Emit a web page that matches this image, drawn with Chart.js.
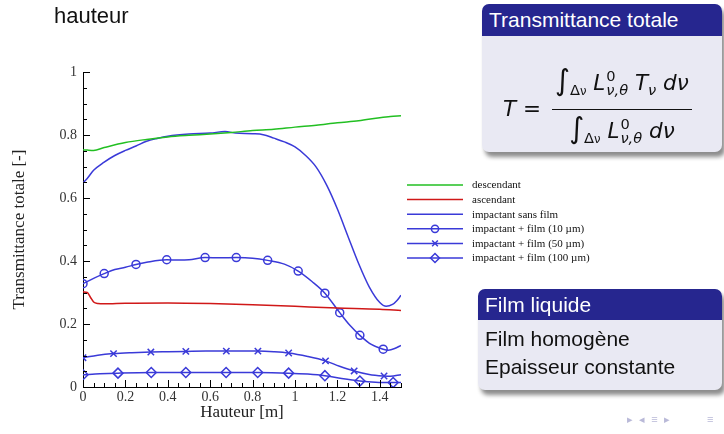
<!DOCTYPE html>
<html><head><meta charset="utf-8">
<script src="https://cdn.jsdelivr.net/npm/chart.js@4/dist/chart.umd.min.js"></script>
<style>
html,body{margin:0;padding:0;background:#fff;width:724px;height:434px;overflow:hidden;font-family:"Liberation Sans",Arial,sans-serif;}
#c{position:absolute;left:0;top:0;}
.slidetitle{position:absolute;left:54px;top:3px;font-size:22px;color:#111;}
.box{position:absolute;background:#e9e9f3;border-radius:7px;box-shadow:3px 5px 4px rgba(0,0,0,0.45);overflow:hidden;}
.hd{background:#26268f;color:#fff;font-size:21px;padding-left:7px;box-sizing:border-box;}
.bd{color:#111;font-size:21px;padding-left:7px;line-height:28px;}
#formula{position:absolute;left:503px;top:62px;font-size:21.5px;color:#111;white-space:nowrap;font-family:"DejaVu Sans","Liberation Sans",sans-serif;}
#formula .mi{font-style:italic;}
.frac{display:inline-block;vertical-align:middle;text-align:center;margin-left:4px;}
.num,.den{display:block;padding:0 3px;line-height:36px;}
.num{border-bottom:1.4px solid #111;}
.int{font-size:1.35em;font-style:italic;font-weight:300;}
.ss{display:inline-block;vertical-align:-0.35em;line-height:0.95;font-size:0.68em;text-align:left;margin-left:1px;}
.ss span{display:block;}
.sub{font-size:0.68em;vertical-align:-0.35em;}
.nav{position:absolute;top:413px;font-size:11px;color:#b9b9d8;}
</style></head>
<body>
<canvas id="c" width="724" height="434"></canvas>
<div class="slidetitle">hauteur</div>

<div class="box" style="left:482px;top:4px;width:240px;height:148px;">
  <div class="hd" style="height:32px;line-height:32px;">Transmittance totale</div>
</div>
<div id="formula">
  <span class="mi">T</span> <span>=</span>
  <span class="frac">
    <span class="num"><span class="int">∫</span><span class="sub">Δ<span style="font-size:0.8em">ν</span></span> <span class="mi">L</span><span class="ss"><span>0</span><span class="mi">ν,θ</span></span> <span class="mi">T</span><span class="sub mi">ν</span> <span class="mi">d</span><span class="mi">ν</span></span>
    <span class="den"><span class="int">∫</span><span class="sub">Δ<span style="font-size:0.8em">ν</span></span> <span class="mi">L</span><span class="ss"><span>0</span><span class="mi">ν,θ</span></span> <span class="mi">d</span><span class="mi">ν</span></span>
  </span>
</div>

<div class="box" style="left:478px;top:289px;width:244px;height:101px;">
  <div class="hd" style="height:31px;line-height:31px;">Film liquide</div>
  <div class="bd" style="padding-top:5px;">Film homogène<br>Epaisseur constante</div>
</div>
<div class="nav" style="left:627px;">▸ &nbsp;◂ &nbsp;≡ &nbsp;▸</div>
<div class="nav" style="left:707px;">≡</div>

<script>
// ---- data ----
const xTickValues = [0, 0.2, 0.4, 0.6, 0.8, 1, 1.2, 1.4];
const xTickLabels = ['0', '0.2', '0.4', '0.6', '0.8', '1', '1.2', '1.4'];
const yTickValues = [0, 0.2, 0.4, 0.6, 0.8, 1];
const yTickLabels = ['0', '0.2', '0.4', '0.6', '0.8', '1'];

const seriesNames = ['descendant', 'ascendant', 'impactant sans film',
  'impactant + film (10 µm)', 'impactant + film (50 µm)', 'impactant + film (100 µm)'];

const descX = [0, 0.02, 0.05, 0.1, 0.2, 0.3, 0.4, 0.5, 0.6, 0.7, 0.8, 0.9, 1.0, 1.1, 1.2, 1.3, 1.4, 1.45, 1.5];
const descY = [0.753, 0.752, 0.751, 0.760, 0.776, 0.786, 0.794, 0.799, 0.803, 0.808, 0.814, 0.818, 0.825, 0.831, 0.839, 0.845, 0.855, 0.859, 0.861];

const ascX = [0, 0.02, 0.035, 0.05, 0.07, 0.1, 0.2, 0.4, 0.6, 0.8, 1.0, 1.2, 1.4, 1.5];
const ascY = [0.302, 0.300, 0.285, 0.270, 0.265, 0.264, 0.266, 0.267, 0.265, 0.261, 0.256, 0.251, 0.247, 0.243];

const sansX = [0, 0.02, 0.05, 0.1, 0.15, 0.2, 0.25, 0.3, 0.35, 0.4, 0.5, 0.6, 0.67, 0.72, 0.8, 0.85, 0.9, 0.95, 1.0, 1.05, 1.1, 1.15, 1.2, 1.25, 1.3, 1.35, 1.4, 1.43, 1.46, 1.48, 1.5];
const sansY = [0.648, 0.662, 0.688, 0.714, 0.735, 0.751, 0.765, 0.780, 0.789, 0.796, 0.803, 0.806, 0.811, 0.806, 0.804, 0.801, 0.790, 0.778, 0.762, 0.735, 0.698, 0.640, 0.565, 0.478, 0.392, 0.318, 0.268, 0.256, 0.262, 0.274, 0.291];

const f10X = [0, 0.05, 0.1, 0.15, 0.2, 0.25, 0.3, 0.395, 0.45, 0.5, 0.576, 0.65, 0.723, 0.8, 0.871, 0.95, 1.015, 1.08, 1.141, 1.211, 1.26, 1.306, 1.36, 1.416, 1.44, 1.47, 1.5];
const f10Y = [0.328, 0.345, 0.360, 0.373, 0.380, 0.389, 0.396, 0.404, 0.403, 0.404, 0.411, 0.410, 0.411, 0.409, 0.402, 0.390, 0.368, 0.335, 0.298, 0.236, 0.195, 0.164, 0.135, 0.120, 0.117, 0.122, 0.132];
const f10Markers = [0, 0.1, 0.25, 0.395, 0.576, 0.723, 0.871, 1.015, 1.141, 1.211, 1.306, 1.416];

const f50X = [0, 0.07, 0.144, 0.23, 0.32, 0.4, 0.485, 0.58, 0.676, 0.75, 0.825, 0.9, 0.97, 1.06, 1.144, 1.21, 1.279, 1.35, 1.42, 1.45, 1.5];
const f50Y = [0.093, 0.101, 0.106, 0.109, 0.111, 0.112, 0.113, 0.114, 0.114, 0.114, 0.114, 0.112, 0.108, 0.097, 0.083, 0.066, 0.051, 0.040, 0.035, 0.034, 0.039];
const f50Markers = [0, 0.144, 0.32, 0.485, 0.676, 0.825, 0.97, 1.144, 1.279, 1.42];

const f100X = [0, 0.08, 0.165, 0.322, 0.485, 0.675, 0.824, 0.97, 1.06, 1.141, 1.22, 1.306, 1.38, 1.463, 1.5];
const f100Y = [0.039, 0.042, 0.044, 0.046, 0.046, 0.046, 0.046, 0.044, 0.041, 0.036, 0.027, 0.019, 0.015, 0.014, 0.014];
const f100Markers = [0, 0.165, 0.322, 0.485, 0.675, 0.824, 0.97, 1.141, 1.306, 1.463];

// ---- build ----
const GREEN = '#22bf22', RED = '#d01818', BLUE = '#3a3ad8';
const pts = (xs, ys) => xs.map((x, i) => ({x, y: ys[i]}));
const markerRadius = (list, r) => ctx => {
  const p = ctx.raw; return p && list.includes(p.x) ? r : 0;
};
const styles = [
  {color: GREEN, marker: null},
  {color: RED, marker: null},
  {color: BLUE, marker: null},
  {color: BLUE, marker: 'circle', r: 4},
  {color: BLUE, marker: 'crossRot', r: 4.5},
  {color: BLUE, marker: 'rectRot', r: 5}
];
const seriesData = [pts(descX, descY), pts(ascX, ascY), pts(sansX, sansY), pts(f10X, f10Y), pts(f50X, f50Y), pts(f100X, f100Y)];
const markerLists = [null, null, null, f10Markers, f50Markers, f100Markers];

const datasets = seriesData.map((d, i) => ({
  label: seriesNames[i],
  data: d,
  borderColor: styles[i].color,
  borderWidth: 1.5,
  backgroundColor: 'rgba(0,0,0,0)',
  pointStyle: styles[i].marker || 'circle',
  pointRadius: markerLists[i] ? markerRadius(markerLists[i], styles[i].r) : 0,
  pointBorderColor: styles[i].color,
  pointBorderWidth: 1.5,
  pointBackgroundColor: 'rgba(0,0,0,0)',
  pointHoverRadius: 0,
  cubicInterpolationMode: 'monotone',
  fill: false
}));

const inTicks = {
  id: 'inTicks',
  afterDatasetsDraw(chart) {
    const {ctx, scales: {x, y}, chartArea: a} = chart;
    ctx.save();
    ctx.strokeStyle = '#000'; ctx.lineWidth = 1;
    ctx.beginPath();
    for (let i = 0; i <= 30; i++) {
      const px = Math.round(x.getPixelForValue(i * 0.05)) + 0.5;
      const len = i % 4 === 0 ? 7 : 4;
      ctx.moveTo(px, a.bottom); ctx.lineTo(px, a.bottom - len);
    }
    for (let i = 0; i <= 20; i++) {
      const py = Math.round(y.getPixelForValue(i * 0.05)) + 0.5;
      const len = i % 4 === 0 ? 7 : 4;
      ctx.moveTo(a.left, py); ctx.lineTo(a.left + len, py);
    }
    ctx.stroke();
    ctx.restore();
  }
};

const legendPlugin = {
  id: 'customLegend',
  afterDraw(chart) {
    const {ctx} = chart;
    const x0 = 407, x1 = 463, tx = 472, y0 = 185, dy = 14.6;
    ctx.save();
    ctx.font = '11px "Liberation Serif", "Times New Roman", serif';
    ctx.textBaseline = 'middle';
    seriesNames.forEach((name, i) => {
      const yy = y0 + i * dy;
      const st = styles[i];
      ctx.strokeStyle = st.color; ctx.lineWidth = 1.5;
      ctx.beginPath(); ctx.moveTo(x0, yy); ctx.lineTo(x1, yy); ctx.stroke();
      if (st.marker) {
        ctx.fillStyle = 'rgba(0,0,0,0)';
        ctx.strokeStyle = st.color;
        Chart.helpers.drawPoint(ctx, {pointStyle: st.marker, radius: st.r * 0.9, rotation: 0, borderWidth: 1.5}, (x0 + x1) / 2, yy);
      }
      ctx.fillStyle = '#111';
      ctx.fillText(name, tx, yy + 0.5);
    });
    ctx.restore();
  }
};

const serif = '"Liberation Serif", "Times New Roman", serif';
new Chart(document.getElementById('c'), {
  type: 'line',
  data: {datasets},
  plugins: [inTicks, legendPlugin],
  options: {
    responsive: false,
    devicePixelRatio: 1,
    animation: false,
    events: [],
    layout: {padding: {left: 0, top: 72, right: 323, bottom: 0}},
    plugins: {legend: {display: false}, tooltip: {enabled: false}},
    scales: {
      x: {
        type: 'linear', min: 0, max: 1.5,
        afterBuildTicks: s => { s.ticks = xTickValues.map(v => ({value: v})); },
        afterFit: s => { s.height = 47; },
        ticks: {callback: (v, i) => xTickLabels[i], font: {family: serif, size: 14}, color: '#333', padding: 2, maxRotation: 0, autoSkip: false},
        grid: {display: false, drawTicks: false},
        border: {display: true, color: '#000', width: 1},
        title: {display: true, text: 'Hauteur [m]', font: {family: serif, size: 17}, color: '#222', padding: {top: 12, bottom: 11}}
      },
      y: {
        type: 'linear', min: 0, max: 1,
        afterBuildTicks: s => { s.ticks = yTickValues.map(v => ({value: v})); },
        afterFit: s => { s.width = 83; },
        ticks: {callback: (v, i) => yTickLabels[i], font: {family: serif, size: 14}, color: '#333', padding: 6, autoSkip: false},
        grid: {display: false, drawTicks: false},
        border: {display: true, color: '#000', width: 1},
        title: {display: true, text: 'Transmittance totale [-]', font: {family: serif, size: 17}, color: '#222', padding: {top: 9, bottom: 0}}
      }
    }
  }
});
</script>
</body></html>
